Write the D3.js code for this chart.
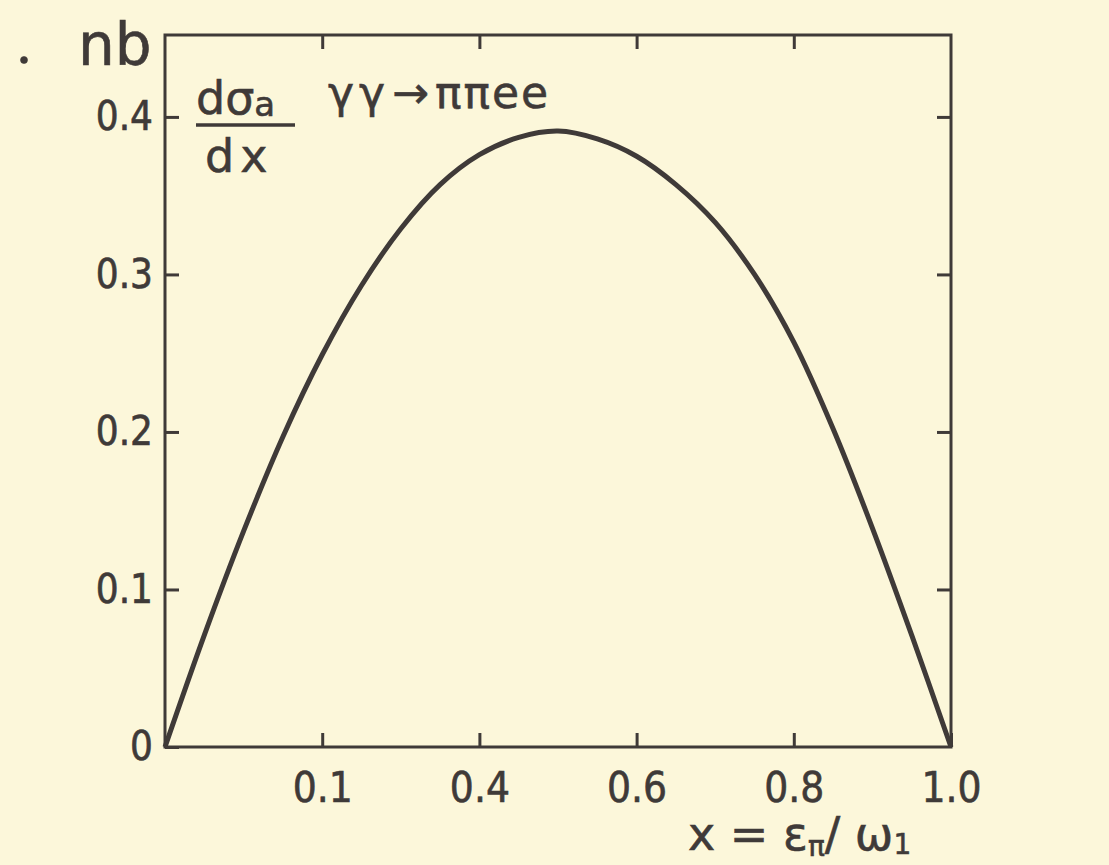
<!DOCTYPE html>
<html>
<head>
<meta charset="utf-8">
<script src="https://cdn.jsdelivr.net/npm/d3@7"></script>
<style>
  html, body { margin: 0; padding: 0; background: #fcf7da; }
  svg { display: block; }
  .axis text { font-family: "DejaVu Sans Condensed", "DejaVu Sans", sans-serif; fill: #3f3a38; }
</style>
</head>
<body>
<svg id="chart" width="1109" height="865"></svg>
<script>
// Differential cross section dσa/dx for γγ → ππee versus x = επ/ω1
const xValues = [0, 0.05, 0.1, 0.15, 0.2, 0.25, 0.3, 0.35, 0.4, 0.45, 0.5, 0.55, 0.6, 0.65, 0.7, 0.75, 0.8, 0.85, 0.9, 0.95, 1.0];
const yValues = [0, 0.071, 0.137, 0.197, 0.249, 0.293, 0.329, 0.357, 0.376, 0.387, 0.391, 0.386, 0.375, 0.357, 0.333, 0.300, 0.257, 0.202, 0.139, 0.071, 0];

const xTickValues = [0.2, 0.4, 0.6, 0.8, 1.0];
const xTickLabels = ["0.1", "0.4", "0.6", "0.8", "1.0"];
const yTickValues = [0, 0.1, 0.2, 0.3, 0.4];
const yTickLabels = ["0", "0.1", "0.2", "0.3", "0.4"];

const ink = "#3f3a38";
const svg = d3.select("#chart");

const x = d3.scaleLinear().domain([0, 1]).range([165, 951]);
const y = d3.scaleLinear().domain([0, 0.452]).range([747, 35]);

// frame
svg.append("rect")
  .attr("x", x(0)).attr("y", y(0.452))
  .attr("width", x(1) - x(0)).attr("height", y(0) - y(0.452))
  .attr("fill", "none").attr("stroke", ink).attr("stroke-width", 3);

function styleAxis(g, fontSize) {
  g.select(".domain").remove();
  g.selectAll(".tick line").attr("stroke", ink).attr("stroke-width", 3);
  g.selectAll(".tick text").attr("font-size", fontSize)
    .attr("stroke", ink).attr("stroke-width", 0.6);
}

// left axis with labels, ticks inward
svg.append("g").attr("class", "axis")
  .attr("transform", `translate(${x(0)},0)`)
  .call(d3.axisLeft(y).tickValues(yTickValues).tickSize(-14).tickPadding(12)
    .tickFormat((d, i) => yTickLabels[i]))
  .call(g => styleAxis(g, 40));

// right axis, ticks only
svg.append("g").attr("class", "axis")
  .attr("transform", `translate(${x(1)},0)`)
  .call(d3.axisRight(y).tickValues(yTickValues.slice(1)).tickSize(-14).tickFormat(""))
  .call(g => styleAxis(g, 40));

// bottom axis with labels
svg.append("g").attr("class", "axis")
  .attr("transform", `translate(0,${y(0)})`)
  .call(d3.axisBottom(x).tickValues(xTickValues).tickSize(-14).tickPadding(25)
    .tickFormat((d, i) => xTickLabels[i]))
  .call(g => styleAxis(g, 42));

// top axis, ticks only
svg.append("g").attr("class", "axis")
  .attr("transform", `translate(0,${y(0.452)})`)
  .call(d3.axisTop(x).tickValues(xTickValues.slice(0, 4)).tickSize(-14).tickFormat(""))
  .call(g => styleAxis(g, 42));

// curve
const pts = xValues.map((v, i) => [v, yValues[i]]);
const line = d3.line()
  .x(d => x(d[0])).y(d => y(d[1]))
  .curve(d3.curveCatmullRom.alpha(0.5));
svg.append("path")
  .datum(pts)
  .attr("d", line)
  .attr("fill", "none")
  .attr("stroke", ink)
  .attr("stroke-width", 5)
  .attr("stroke-linejoin", "round");

// unit label
const txt = svg.append("g")
  .attr("font-family", "'DejaVu Sans', sans-serif")
  .attr("fill", ink)
  .attr("stroke", ink).attr("stroke-width", 0.6);
txt.append("circle").attr("cx", 24).attr("cy", 60).attr("r", 3.5).attr("fill", ink);
txt.append("text").attr("x", 78).attr("y", 65).attr("font-size", 58).text("nb");

// dσa/dx fraction
const frac = txt.append("text").attr("x", 196).attr("y", 114).attr("font-size", 46);
frac.append("tspan").text("dσ");
frac.append("tspan").attr("font-size", 34).attr("dy", 2).text("a");
svg.append("line")
  .attr("x1", 196).attr("x2", 295).attr("y1", 125).attr("y2", 125)
  .attr("stroke", ink).attr("stroke-width", 3.5);
txt.append("text").attr("x", 205).attr("y", 172).attr("font-size", 46)
  .attr("letter-spacing", 6).text("dx");

// process label
const proc = txt.append("text").attr("x", 328).attr("y", 108).attr("font-size", 44);
proc.append("tspan").attr("letter-spacing", 5).text("γγ");
proc.append("tspan").attr("dx", 2).text("→");
proc.append("tspan").attr("dx", 6).attr("letter-spacing", 2).text("ππee");

// x-axis title
const xt = txt.append("text").attr("x", 688).attr("y", 850).attr("font-size", 46);
xt.append("tspan").text("x = ε");
xt.append("tspan").attr("font-size", 28).attr("dy", 6).text("π");
xt.append("tspan").attr("dy", -6).text("/ ω");
xt.append("tspan").attr("font-size", 28).attr("dy", 4).text("1");
</script>
</body>
</html>
